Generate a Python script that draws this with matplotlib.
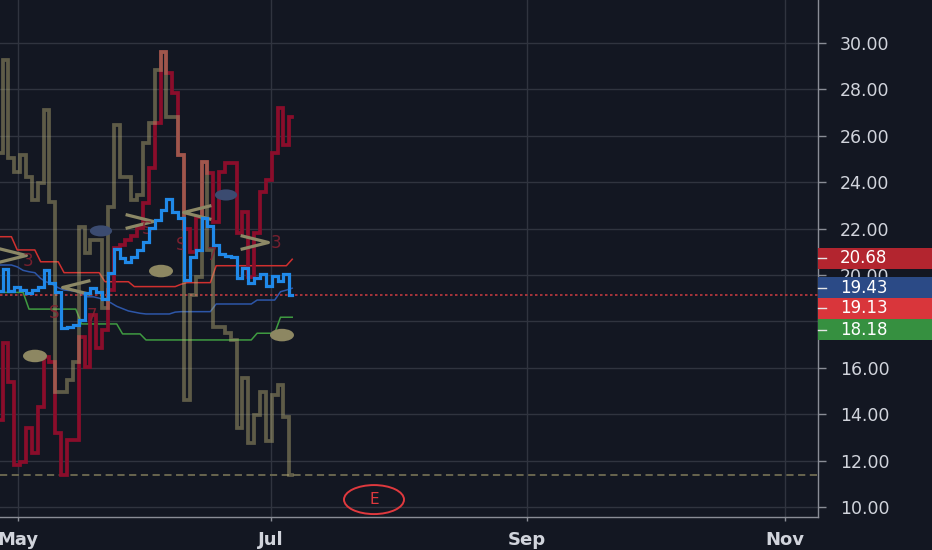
import matplotlib
matplotlib.use("Agg")
import matplotlib.pyplot as plt
import matplotlib.transforms as mtransforms
from matplotlib.patches import Ellipse, Rectangle
from matplotlib.lines import Line2D
from matplotlib.path import Path

# ---------------- data ----------------
bars = list(range(0, 51))  # one bar per trading day

price = [19.30, 20.25, 19.31, 19.50, 19.35, 19.24, 19.35, 19.50, 20.22, 19.64, 19.28,
         17.70, 17.74, 17.84, 18.06, 19.24, 19.43, 19.28, 18.95, 20.09, 21.10,
         20.72, 20.58, 20.79, 21.08, 21.44, 22.01, 22.37, 22.80, 23.26, 22.73,
         22.44, 19.78, 20.79, 21.08, 22.44, 22.10, 21.30, 20.90, 20.80, 20.79,
         19.86, 20.29, 19.64, 19.86, 20.04, 19.53, 19.96, 19.76, 20.04, 19.13]

olive_series = [25.25, 29.27, 25.03, 24.45, 25.17, 24.24, 23.23, 23.95, 27.11, 23.16, 14.97,
                14.97, 15.47, 16.26, 22.08, 20.94, 21.50, 21.50, 18.58, 22.95, 26.47,
                24.24, 24.24, 23.23, 23.45, 25.68, 26.54, 28.84, 29.63, 26.83, 26.83,
                25.17, 14.60, 19.14, 19.93, 24.88, 21.08, 17.77, 17.77, 17.50, 17.20,
                13.39, 15.56, 12.76, 13.97, 14.97, 12.84, 14.83, 15.26, 13.89, 11.38]

red_series = [13.75, 17.06, 15.40, 11.81, 11.95, 13.39, 12.31, 14.32, 16.48, 16.26, 13.18,
              11.38, 12.89, 12.89, 17.34, 16.05, 18.28, 16.84, 17.63, 19.35, 21.16,
              21.29, 21.50, 21.70, 22.01, 23.09, 24.60, 26.54, 29.63, 28.69, 27.83,
              25.17, 22.00, 21.00, 22.50, 24.88, 24.38, 22.30, 24.45, 24.81, 24.81,
              21.80, 22.73, 19.93, 21.80, 23.59, 24.10, 25.25, 27.19, 25.60, 26.82]

ma_red = [21.65, 21.65, 21.65, 21.08, 21.08, 21.08, 21.08, 20.57, 20.57, 20.57, 20.57,
          20.10, 20.10, 20.10, 20.10, 20.10, 20.10, 20.10, 19.71, 19.71, 19.71,
          19.71, 19.71, 19.50, 19.50, 19.50, 19.50, 19.50, 19.50, 19.50, 19.50,
          19.60, 19.67, 19.67, 19.67, 19.67, 19.67, 20.40, 20.40, 20.40, 20.40,
          20.40, 20.40, 20.40, 20.40, 20.40, 20.40, 20.40, 20.40, 20.40, 20.68]

ma_blue = [20.43, 20.43, 20.43, 20.35, 20.20, 20.14, 20.10, 19.85, 19.70, 19.60, 19.45,
           19.35, 19.33, 19.30, 19.20, 19.06, 19.06, 19.00, 18.92, 18.80, 18.65,
           18.55, 18.45, 18.40, 18.35, 18.32, 18.32, 18.32, 18.32, 18.32, 18.40,
           18.42, 18.42, 18.42, 18.42, 18.42, 18.42, 18.75, 18.75, 18.75, 18.75,
           18.75, 18.75, 18.75, 18.92, 18.92, 18.92, 18.92, 19.28, 19.35, 19.43]

ma_green = [19.25, 19.25, 19.25, 19.25, 19.25, 18.53, 18.53, 18.53, 18.53, 18.53, 18.53,
            18.53, 18.53, 18.53, 17.89, 17.89, 17.89, 17.89, 17.89, 17.89, 17.89,
            17.46, 17.46, 17.46, 17.46, 17.20, 17.20, 17.20, 17.20, 17.20, 17.20,
            17.20, 17.20, 17.20, 17.20, 17.20, 17.20, 17.20, 17.20, 17.20, 17.20,
            17.20, 17.20, 17.20, 17.49, 17.49, 17.49, 17.49, 18.18, 18.18, 18.18]

last_price = 19.13
olive_last = 11.38

# marker annotations (bar position, value)
olive_dots_x = [6.03, 27.57, 48.25]
olive_dots_y = [16.51, 20.17, 17.41]
blue_dots_x = [17.31, 38.68]
blue_dots_y = [21.90, 23.45]

chev_right_x = [2.10, 23.81, 43.47]
chev_right_y = [20.86, 22.33, 21.42]
chev_left_x = [13.04, 33.72]
chev_left_y = [19.48, 22.72]

mark_texts = ["3", "S", "7", "S", "S", "7", "3"]
mark_x = [4.83, 9.28, 15.77, 25.17, 30.99, 36.30, 47.23]
mark_y = [20.60, 18.36, 18.23, 21.98, 21.29, 20.86, 21.38]

earn_x, earn_y = 63.98, 10.32

month_labels = ["May", "Jul", "Sep", "Nov"]
month_pos = [3.12, 46.30, 90.13, 134.24]
yticks = [10, 12, 14, 16, 18, 20, 22, 24, 26, 28, 30]
hidden_tick = 18  # covered by the price badges in the reference

badge_values = [20.68, 19.43, 19.13, 18.18]
badge_pos = [20.72, 19.46, 18.56, 17.65]
badge_colors = ["#b3252f", "#2b4a86", "#d9363b", "#369040"]

# ---------------- figure ----------------
BG = "#131722"
fig = plt.figure(figsize=(9.32, 5.5), dpi=100, facecolor=BG)
ax = fig.add_axes([0, 33 / 550, 818 / 932, 517 / 550], facecolor=BG)

ax.grid(True, color="#30343f", lw=1.0, zorder=0)
ax.set_axisbelow(True)

ax.plot(bars, ma_red, color="#d0302f", lw=1.1, zorder=2.5)
ax.plot(bars, ma_blue, color="#2d56a8", lw=1.1, zorder=2.5)
ax.plot(bars, ma_green, color="#3f9b41", lw=1.1, zorder=2.5)

ax.axhline(last_price, color="#c0393f", lw=1.2, ls=(0, (1.5, 1.5)), zorder=2.6)
ax.axhline(olive_last, color="#6f6c52", lw=1.3, ls=(0, (4, 2.5)), zorder=2.6)

ax.plot(bars, red_series, drawstyle="steps-mid", color="#8a0d2b", lw=2.7,
        solid_joinstyle="miter", zorder=3)
ax.plot(bars, olive_series, drawstyle="steps-mid", color="#bab076", alpha=0.45, lw=2.7,
        solid_joinstyle="miter", zorder=4)

for x, y in zip(olive_dots_x, olive_dots_y):
    ax.add_patch(Ellipse((x, y), 4.1, 0.54, facecolor="#8d8762", edgecolor="none", zorder=4.2))
for x, y in zip(blue_dots_x, blue_dots_y):
    ax.add_patch(Ellipse((x, y), 3.8, 0.48, facecolor="#3b4b70", edgecolor="none", zorder=4.2))

right_path = Path([(-1, 0.5), (1, 0), (-1, -0.5)])
left_path = Path([(1, 0.5), (-1, 0), (1, -0.5)])
ax.plot(chev_right_x, chev_right_y, ls="none", marker=right_path, markersize=20,
        markerfacecolor="none", markeredgecolor="#8c8866", markeredgewidth=2.3, zorder=4.3)
ax.plot(chev_left_x, chev_left_y, ls="none", marker=left_path, markersize=20,
        markerfacecolor="none", markeredgecolor="#8c8866", markeredgewidth=2.3, zorder=4.3)
for t, x, y in zip(mark_texts, mark_x, mark_y):
    ax.text(x, y, t, color="#8a2131", fontsize=12, ha="center", va="center", alpha=0.85,
            zorder=4.3)

ax.plot(bars, price, drawstyle="steps-mid", color="#2089e8", lw=2.3,
        solid_joinstyle="miter", zorder=5)

ax.add_patch(Ellipse((earn_x, earn_y), 10.26, 1.25, facecolor="none", edgecolor="#e0393e",
                     lw=1.4, zorder=5))
ax.text(earn_x, earn_y, "E", color="#e0393e", fontsize=11, ha="center", va="center", zorder=5)

# axes styling
ax.set_xlim(0.047, 139.88)
ax.set_ylim(9.569, 31.853)
ax.set_yticks(yticks)
ax.set_yticklabels(["" if v == hidden_tick else f"{v:.2f}" for v in yticks])
ax.yaxis.tick_right()
ax.tick_params(axis="y", direction="out", length=5.8, width=1, color="#8a8d96", pad=10,
               labelsize=12.5, labelcolor="#d1d4dc")
ax.set_xticks(month_pos)
ax.set_xticklabels(month_labels, fontweight="bold")
ax.tick_params(axis="x", direction="out", length=3, width=1, color="#8a8d96", pad=7,
               labelsize=13, labelcolor="#d1d4dc")
for s in ["top", "left"]:
    ax.spines[s].set_visible(False)
for s in ["right", "bottom"]:
    ax.spines[s].set_color("#8a8d96")
    ax.spines[s].set_linewidth(1.0)

# price badges on the right axis
trans = mtransforms.blended_transform_factory(ax.transAxes, ax.transData)
for val, pos, col in zip(badge_values, badge_pos, badge_colors):
    ax.add_artist(Rectangle((1.0, pos - 0.45), 932 / 818 - 1.0, 0.9, transform=trans,
                            facecolor=col, edgecolor="none", clip_on=False, zorder=10))
    ax.add_artist(Line2D([1.0, 1.0 + 8 / 818], [pos, pos], transform=trans, color="#e6e6e6",
                         lw=1, clip_on=False, zorder=11))
    ax.text(1.0 + 22 / 818, pos, f"{val:.2f}", transform=trans, color="white",
            fontsize=12, ha="left", va="center", clip_on=False, zorder=11)

fig.savefig("out.png", dpi=100, facecolor=BG)
